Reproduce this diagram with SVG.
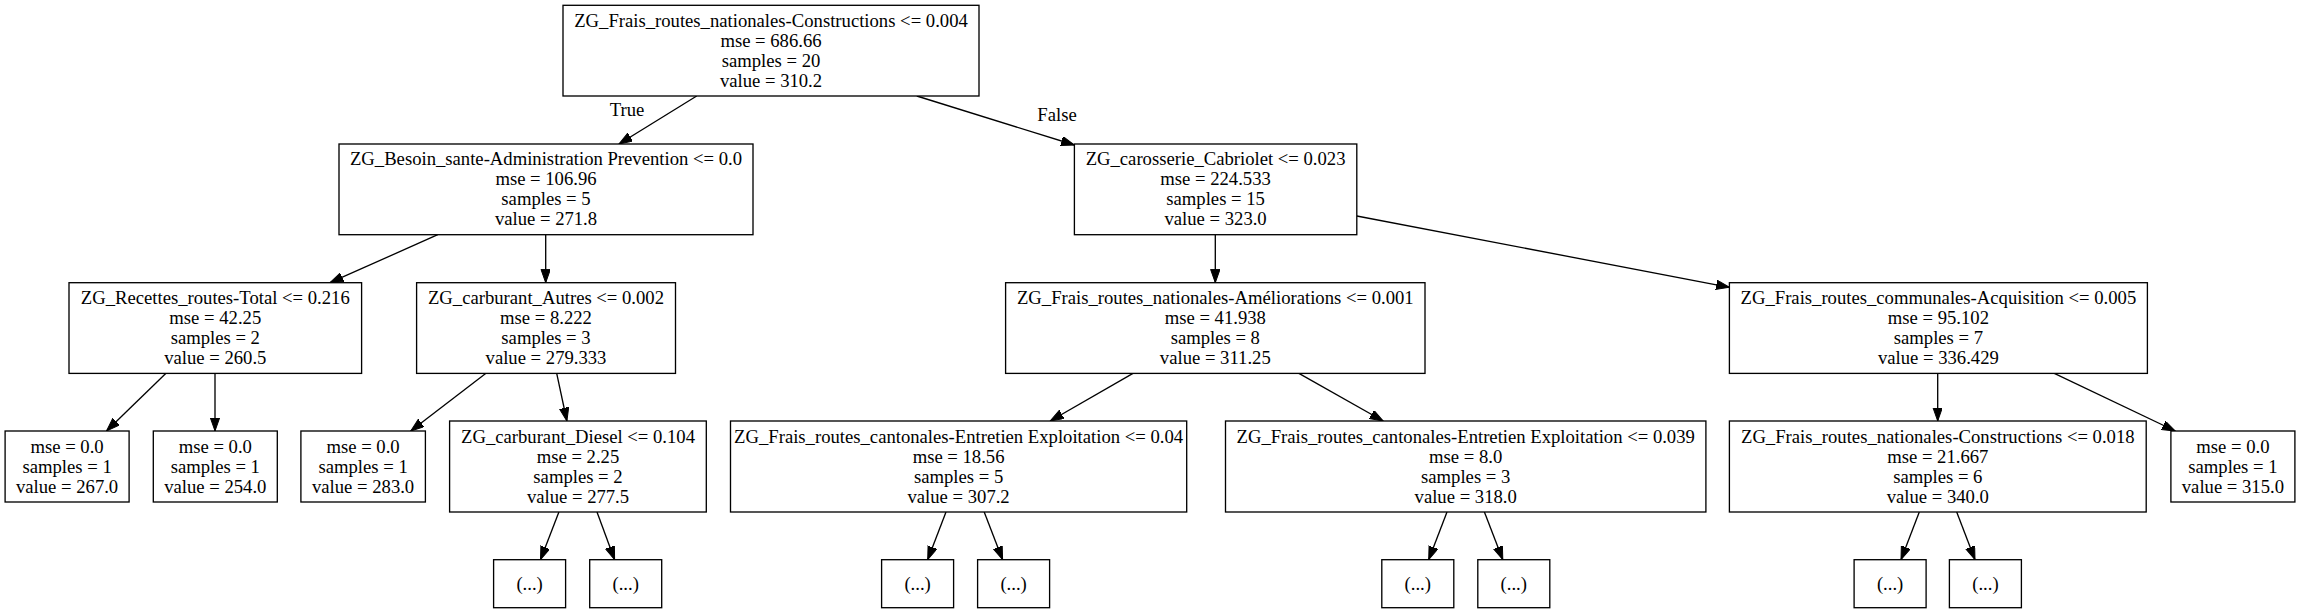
<svg xmlns="http://www.w3.org/2000/svg" width="2300" height="613" viewBox="0 0 2300 613">
<style>
.n rect{fill:#fff;stroke:#000;stroke-width:1.33}
text{font-family:"Liberation Serif","Times New Roman",serif;font-size:18.67px;fill:#000;text-anchor:middle}
.e line{stroke:#000;stroke-width:1.33;marker-end:url(#ah)}
</style>
<defs>
<marker id="ah" markerUnits="userSpaceOnUse" markerWidth="14" markerHeight="10" refX="13.3" refY="4.7" orient="auto">
<path d="M0,0 L13.3,4.7 L0,9.4 Z" fill="#000" stroke="#000" stroke-width="1"/>
</marker>
</defs>
<rect width="2300" height="613" fill="#fff"/>
<g id="connectors" class="e">
<line x1="696.7" y1="96" x2="619" y2="144"/>
<line x1="916.8" y1="96" x2="1074.4" y2="145"/>
<line x1="437.8" y1="234.7" x2="330" y2="282.7"/>
<line x1="545.7" y1="234.7" x2="545.7" y2="282.7"/>
<line x1="166" y1="373.3" x2="106.5" y2="431"/>
<line x1="215" y1="373.3" x2="215" y2="431"/>
<line x1="486" y1="373.3" x2="410.7" y2="431"/>
<line x1="556.7" y1="373.3" x2="566.9" y2="421"/>
<line x1="558.9" y1="512" x2="540.5" y2="559.7"/>
<line x1="597" y1="512" x2="614.6" y2="559.7"/>
<line x1="1215.3" y1="234.7" x2="1215.3" y2="282.7"/>
<line x1="1356.8" y1="216" x2="1729.4" y2="287.3"/>
<line x1="1133" y1="373.3" x2="1050.2" y2="421"/>
<line x1="1298.9" y1="373.3" x2="1383.2" y2="421"/>
<line x1="946" y1="512" x2="927.7" y2="559.7"/>
<line x1="984.2" y1="512" x2="1002.6" y2="559.7"/>
<line x1="1447" y1="512" x2="1428.7" y2="559.7"/>
<line x1="1484.4" y1="512" x2="1502.8" y2="559.7"/>
<line x1="1937.7" y1="373.3" x2="1937.7" y2="421"/>
<line x1="2054.3" y1="373.3" x2="2175.3" y2="431"/>
<line x1="1919.3" y1="512" x2="1901" y2="559.7"/>
<line x1="1956.7" y1="512" x2="1975" y2="559.7"/>
<text x="627" y="115.5">True</text>
<text x="1057" y="120.5">False</text>
</g>
<g id="node0" class="n"><rect x="563" y="5.3" width="416" height="90.7"/>
<text x="771" y="26.7">ZG_Frais_routes_nationales-Constructions &lt;= 0.004</text><text x="771" y="46.7">mse = 686.66</text><text x="771" y="66.7">samples = 20</text><text x="771" y="86.7">value = 310.2</text></g>
<g id="node1" class="n"><rect x="339" y="144" width="414" height="90.7"/>
<text x="546" y="165.3">ZG_Besoin_sante-Administration Prevention &lt;= 0.0</text><text x="546" y="185.3">mse = 106.96</text><text x="546" y="205.3">samples = 5</text><text x="546" y="225.3">value = 271.8</text></g>
<g id="node8" class="n"><rect x="1074.4" y="144" width="282.4" height="90.7"/>
<text x="1215.6" y="165.3">ZG_carosserie_Cabriolet &lt;= 0.023</text><text x="1215.6" y="185.3">mse = 224.533</text><text x="1215.6" y="205.3">samples = 15</text><text x="1215.6" y="225.3">value = 323.0</text></g>
<g id="node2" class="n"><rect x="69" y="282.7" width="292.6" height="90.7"/>
<text x="215.3" y="304">ZG_Recettes_routes-Total &lt;= 0.216</text><text x="215.3" y="324">mse = 42.25</text><text x="215.3" y="344">samples = 2</text><text x="215.3" y="364">value = 260.5</text></g>
<g id="node5" class="n"><rect x="416.6" y="282.7" width="258.9" height="90.7"/>
<text x="546" y="304">ZG_carburant_Autres &lt;= 0.002</text><text x="546" y="324">mse = 8.222</text><text x="546" y="344">samples = 3</text><text x="546" y="364">value = 279.333</text></g>
<g id="node9" class="n"><rect x="1005.6" y="282.7" width="419.4" height="90.7"/>
<text x="1215.3" y="304">ZG_Frais_routes_nationales-Améliorations &lt;= 0.001</text><text x="1215.3" y="324">mse = 41.938</text><text x="1215.3" y="344">samples = 8</text><text x="1215.3" y="364">value = 311.25</text></g>
<g id="node16" class="n"><rect x="1729.4" y="282.7" width="418" height="90.7"/>
<text x="1938.4" y="304">ZG_Frais_routes_communales-Acquisition &lt;= 0.005</text><text x="1938.4" y="324">mse = 95.102</text><text x="1938.4" y="344">samples = 7</text><text x="1938.4" y="364">value = 336.429</text></g>
<g id="node3" class="n"><rect x="5.1" y="431" width="124" height="71"/>
<text x="67.1" y="452.5">mse = 0.0</text><text x="67.1" y="472.5">samples = 1</text><text x="67.1" y="492.5">value = 267.0</text></g>
<g id="node4" class="n"><rect x="153.3" y="431" width="124" height="71"/>
<text x="215.3" y="452.5">mse = 0.0</text><text x="215.3" y="472.5">samples = 1</text><text x="215.3" y="492.5">value = 254.0</text></g>
<g id="node6" class="n"><rect x="300.9" y="431" width="124.5" height="71"/>
<text x="363.1" y="452.5">mse = 0.0</text><text x="363.1" y="472.5">samples = 1</text><text x="363.1" y="492.5">value = 283.0</text></g>
<g id="node7" class="n"><rect x="449.6" y="421" width="256.7" height="91"/>
<text x="578" y="442.5">ZG_carburant_Diesel &lt;= 0.104</text><text x="578" y="462.5">mse = 2.25</text><text x="578" y="482.5">samples = 2</text><text x="578" y="502.5">value = 277.5</text></g>
<g id="node10" class="n"><rect x="730.5" y="421" width="456.2" height="91"/>
<text x="958.6" y="442.5">ZG_Frais_routes_cantonales-Entretien Exploitation &lt;= 0.04</text><text x="958.6" y="462.5">mse = 18.56</text><text x="958.6" y="482.5">samples = 5</text><text x="958.6" y="502.5">value = 307.2</text></g>
<g id="node13" class="n"><rect x="1225.5" y="421" width="480.4" height="91"/>
<text x="1465.7" y="442.5">ZG_Frais_routes_cantonales-Entretien Exploitation &lt;= 0.039</text><text x="1465.7" y="462.5">mse = 8.0</text><text x="1465.7" y="482.5">samples = 3</text><text x="1465.7" y="502.5">value = 318.0</text></g>
<g id="node17" class="n"><rect x="1729.4" y="421" width="416.8" height="91"/>
<text x="1937.8" y="442.5">ZG_Frais_routes_nationales-Constructions &lt;= 0.018</text><text x="1937.8" y="462.5">mse = 21.667</text><text x="1937.8" y="482.5">samples = 6</text><text x="1937.8" y="502.5">value = 340.0</text></g>
<g id="node20" class="n"><rect x="2170.9" y="431" width="124" height="71"/>
<text x="2232.9" y="452.5">mse = 0.0</text><text x="2232.9" y="472.5">samples = 1</text><text x="2232.9" y="492.5">value = 315.0</text></g>
<g id="e1" class="n"><rect x="493.6" y="559.7" width="72" height="48"/><text x="529.6" y="589.5">(...)</text></g>
<g id="e2" class="n"><rect x="589.7" y="559.7" width="72" height="48"/><text x="625.7" y="589.5">(...)</text></g>
<g id="e3" class="n"><rect x="881.6" y="559.7" width="72" height="48"/><text x="917.6" y="589.5">(...)</text></g>
<g id="e4" class="n"><rect x="977.6" y="559.7" width="72" height="48"/><text x="1013.6" y="589.5">(...)</text></g>
<g id="e5" class="n"><rect x="1381.8" y="559.7" width="72" height="48"/><text x="1417.8" y="589.5">(...)</text></g>
<g id="e6" class="n"><rect x="1477.8" y="559.7" width="72" height="48"/><text x="1513.8" y="589.5">(...)</text></g>
<g id="e7" class="n"><rect x="1854.1" y="559.7" width="72" height="48"/><text x="1890.1" y="589.5">(...)</text></g>
<g id="e8" class="n"><rect x="1949.4" y="559.7" width="72" height="48"/><text x="1985.4" y="589.5">(...)</text></g>
</svg>
